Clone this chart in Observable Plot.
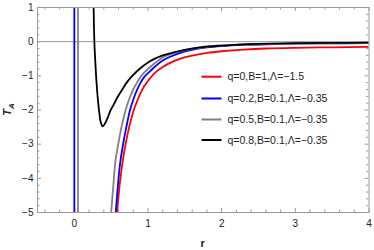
<!DOCTYPE html>
<html><head><meta charset="utf-8">
<script src="https://cdn.jsdelivr.net/npm/d3@7"></script>
<script src="https://cdn.jsdelivr.net/npm/@observablehq/plot@0.6"></script>
<style>body{margin:0;background:#fff}</style>
</head><body><div id="chart"></div>
<script>
const seriesNames = ["q=0,B=1,\u039B=\u22121.5", "q=0.2,B=0.1,\u039B=\u22120.35", "q=0.5,B=0.1,\u039B=\u22120.35", "q=0.8,B=0.1,\u039B=\u22120.35"];
const seriesColors = ["#ff0000", "#0000ff", "#808080", "#000000"];

const redR = [0.58,0.62,0.66,0.70,0.75,0.80,0.85,0.90,0.95,1.00,1.10,1.20,1.30,1.45,1.60,1.80,2.00,2.30,2.60,3.00,3.50,4.00];
const redT = [-5.0,-4.1,-3.45,-2.95,-2.45,-2.05,-1.75,-1.50,-1.30,-1.15,-0.90,-0.74,-0.62,-0.49,-0.41,-0.33,-0.28,-0.23,-0.20,-0.18,-0.165,-0.155];

const blueR = [0.562,0.60,0.626,0.67,0.72,0.75,0.80,0.85,0.90,0.95,1.03,1.10,1.20,1.30,1.45,1.60,1.80,2.00,2.30,2.60,3.00,3.50,4.00];
const blueT = [-5.0,-4.0,-3.49,-2.9,-2.35,-2.05,-1.7,-1.42,-1.2,-1.03,-0.86,-0.72,-0.55,-0.44,-0.32,-0.24,-0.17,-0.13,-0.095,-0.075,-0.06,-0.05,-0.045];
const blueVertR = [0, 0];
const blueVertT = [-5, 1];

const grayR = [0.50,0.53,0.558,0.60,0.65,0.69,0.75,0.80,0.85,0.90,0.95,1.03,1.10,1.20,1.30,1.45,1.60,1.80,2.00,2.30,2.60,3.00,3.50,4.00];
const grayT = [-5.0,-4.2,-3.5,-2.95,-2.4,-2.05,-1.65,-1.4,-1.2,-1.03,-0.9,-0.74,-0.62,-0.46,-0.37,-0.28,-0.21,-0.15,-0.115,-0.085,-0.068,-0.055,-0.047,-0.042];
const grayVertR = [0.05, 0.05];
const grayVertT = [-5, 1];

const blackR = [0.262,0.272,0.285,0.30,0.32,0.34,0.36,0.385,0.41,0.45,0.49,0.54,0.58,0.65,0.72,0.80,0.90,1.00,1.10,1.20,1.35,1.50,1.70,1.95,2.20,2.50,3.00,3.50,4.00];
const blackT = [1.0,0.0,-0.6,-1.15,-1.7,-2.1,-2.37,-2.48,-2.42,-2.24,-2.02,-1.82,-1.65,-1.40,-1.17,-0.97,-0.77,-0.61,-0.49,-0.40,-0.31,-0.24,-0.17,-0.12,-0.09,-0.065,-0.045,-0.035,-0.03];

const xTicks = [0, 1, 2, 3, 4];
const yTicks = [-5, -4, -3, -2, -1, 0, 1];

function seg(rs, ts, s, part) { return rs.map((r, i) => ({r, T: ts[i], s, z: s + part})); }
const data = [
  ...seg(redR, redT, 0, "a"),
  ...seg(blueVertR, blueVertT, 1, "v"),
  ...seg(blueR, blueT, 1, "a"),
  ...seg(grayVertR, grayVertT, 2, "v"),
  ...seg(grayR, grayT, 2, "a"),
  ...seg(blackR, blackT, 3, "a")
];

const W = 374, H = 250, mL = 37, mR = 5.5, mT = 7, mB = 38;
const fw = W - mL - mR, fh = H - mT - mB;
const xMinor = d3.range(-0.4, 4.0, 0.2).filter(v => Math.abs(v - Math.round(v)) > 1e-6);
const yMinor = d3.range(-4.8, 1.0, 0.2).filter(v => Math.abs(v - Math.round(v)) > 1e-6);
const tc = "#9a9a9a";

const chart = Plot.plot({
  width: W, height: H,
  marginLeft: mL, marginRight: mR, marginTop: mT, marginBottom: mB,
  style: {fontFamily: "Liberation Sans, Arial, sans-serif", fontSize: "10px", color: "#222", background: "#fff"},
  x: {domain: [-0.5, 4], label: null},
  y: {domain: [-5, 1], label: null},
  color: {domain: [0,1,2,3], range: seriesColors},
  marks: [
    Plot.ruleY([0], {stroke: tc, strokeWidth: 1}),
    Plot.tickX(xTicks, {x: d => d, insetTop: fh - 4, stroke: tc}),
    Plot.tickX(xMinor, {x: d => d, insetTop: fh - 2.5, stroke: tc}),
    Plot.tickX(xTicks, {x: d => d, insetBottom: fh - 4, stroke: tc}),
    Plot.tickX(xMinor, {x: d => d, insetBottom: fh - 2.5, stroke: tc}),
    Plot.tickY(yTicks, {y: d => d, insetRight: fw - 4, stroke: tc}),
    Plot.tickY(yMinor, {y: d => d, insetRight: fw - 2.5, stroke: tc}),
    Plot.tickY(yTicks, {y: d => d, insetLeft: fw - 4, stroke: tc}),
    Plot.tickY(yMinor, {y: d => d, insetLeft: fw - 2.5, stroke: tc}),
    Plot.line(data, {x: "r", y: "T", z: "z", stroke: "s", strokeWidth: 1.8, curve: "catmull-rom", clip: true}),
    Plot.frame({stroke: tc}),
    Plot.axisX(xTicks, {tickSize: 0, tickPadding: 7, label: null, fontSize: 10}),
    Plot.axisY(yTicks, {tickSize: 0, tickPadding: 4, label: null, fontSize: 10})
  ]
});

const svg = d3.select(chart);
const lg = svg.append("g").attr("font-family", "Liberation Sans, Arial, sans-serif").attr("font-size", 10.5).attr("text-anchor", "start");
const legendY = [76.7, 98.5, 119.5, 140];
seriesNames.forEach((name, i) => {
  lg.append("line").attr("x1", 201.5).attr("x2", 221.5).attr("y1", legendY[i]).attr("y2", legendY[i])
    .attr("stroke", seriesColors[i]).attr("stroke-width", 2);
  lg.append("text").attr("x", 227.5).attr("y", legendY[i]).attr("dy", "0.35em").attr("text-anchor", "start").attr("fill", "#222").text(name);
});
svg.append("text").attr("x", mL + fw / 2).attr("y", 243).attr("dy", "0.35em").attr("text-anchor", "middle")
  .attr("font-family", "Liberation Sans, Arial, sans-serif").attr("font-size", 11).attr("font-weight", "bold").text("r");
const ty = svg.append("text").attr("transform", `translate(11,${mT + fh / 2}) rotate(-90)`).attr("text-anchor", "middle")
  .attr("font-family", "Liberation Sans, Arial, sans-serif").attr("font-size", 11).attr("font-weight", "bold").attr("font-style", "italic");
ty.append("tspan").text("T");
ty.append("tspan").attr("font-size", 8).attr("dy", 3).text("A");
document.getElementById("chart").appendChild(chart);
</script></body></html>
